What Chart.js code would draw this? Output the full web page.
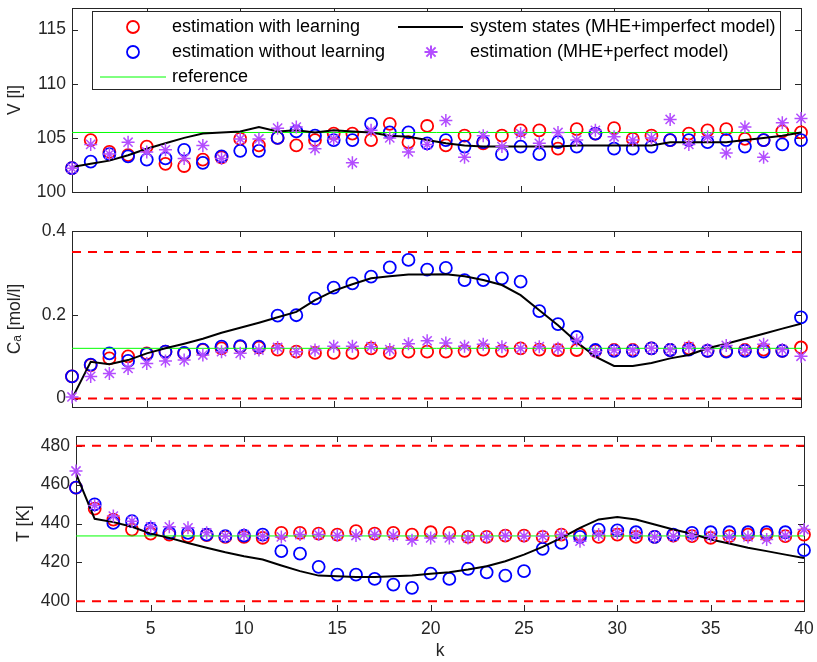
<!DOCTYPE html>
<html>
<head>
<meta charset="utf-8">
<script src="https://cdn.jsdelivr.net/npm/chart.js@4.4.0/dist/chart.umd.min.js"></script>
<style>
    body { margin: 0; background: #fff; }
    #wrap { position: relative; width: 817px; height: 662px; }
    .panel { position: absolute; left: 0; width: 817px; }
</style>
</head>
<body>
<div id="wrap">
    <div class="panel" style="top:0"><canvas id="chartV" width="817" height="205"></canvas></div>
    <div class="panel" style="top:205px"><canvas id="chartCa" width="817" height="215"></canvas></div>
    <div class="panel" style="top:420px"><canvas id="chartT" width="817" height="242"></canvas></div>
</div>
<script>
// time steps
var kValues = [1, 2, 3, 4, 5, 6, 7, 8, 9, 10, 11, 12, 13, 14, 15, 16, 17, 18, 19, 20,
    21, 22, 23, 24, 25, 26, 27, 28, 29, 30, 31, 32, 33, 34, 35, 36, 37, 38, 39, 40];
var xTicks = [5, 10, 15, 20, 25, 30, 35, 40];

// V [l]
var vWithLearning = [102.2, 104.8, 103.7, 103.4, 104.2, 102.6, 102.4, 103.0, 103.2, 104.9, 104.3, 105.0, 104.3, 104.8, 105.4, 105.4, 104.8, 106.3, 104.6, 106.1,
    104.3, 105.2, 104.5, 105.2, 105.7, 105.7, 104.0, 105.8, 105.4, 105.9, 104.9, 105.2, 104.8, 105.4, 105.7, 105.8, 104.9, 104.8, 105.6, 105.5];
var vWithoutLearning = [102.2, 102.8, 103.5, 103.3, 103.0, 103.1, 103.9, 102.7, 103.3, 103.8, 103.8, 105.0, 105.6, 105.2, 104.8, 104.8, 106.3, 105.5, 105.5, 104.5,
    104.8, 104.2, 104.6, 103.5, 104.2, 103.5, 104.6, 104.2, 105.4, 104.0, 104.0, 104.2, 104.8, 104.8, 104.6, 104.8, 104.2, 104.8, 104.4, 104.8];
var vPerfect = [102.2, 104.4, 103.5, 104.6, 103.7, 103.9, 103.1, 104.3, 103.1, 104.9, 104.9, 105.9, 106.0, 104.0, 104.9, 102.7, 105.7, 105.0, 103.7, 104.4,
    106.6, 103.2, 105.2, 104.2, 105.4, 104.5, 105.5, 104.8, 105.7, 105.1, 104.8, 105.0, 106.7, 104.4, 105.1, 103.6, 106.0, 103.2, 106.4, 106.8];
var vSystem = [102.3, 102.6, 102.9, 103.4, 104.0, 104.5, 105.0, 105.4, 105.5, 105.6, 106.0, 105.6, 105.7, 105.5, 105.7, 105.6, 105.5, 105.2, 105.1, 104.8,
    104.5, 104.3, 104.2, 104.2, 104.2, 104.2, 104.2, 104.3, 104.3, 104.3, 104.3, 104.3, 104.6, 104.6, 104.6, 104.6, 104.8, 105.0, 105.2, 105.5];
var vReference = 105.5;
var vTicks = [100, 105, 110, 115];

// Ca [mol/l]
var caWithLearning = [0.053, 0.080, 0.096, 0.101, 0.108, 0.112, 0.108, 0.116, 0.120, 0.124, 0.122, 0.117, 0.112, 0.109, 0.109, 0.109, 0.120, 0.109, 0.112, 0.112,
    0.112, 0.114, 0.117, 0.114, 0.120, 0.117, 0.116, 0.116, 0.114, 0.116, 0.116, 0.120, 0.116, 0.120, 0.114, 0.114, 0.116, 0.117, 0.114, 0.122];
var caWithoutLearning = [0.053, 0.081, 0.108, 0.090, 0.106, 0.112, 0.109, 0.117, 0.124, 0.125, 0.124, 0.198, 0.199, 0.239, 0.265, 0.275, 0.291, 0.313, 0.331, 0.308,
    0.312, 0.283, 0.283, 0.287, 0.279, 0.209, 0.178, 0.147, 0.116, 0.114, 0.114, 0.120, 0.116, 0.117, 0.114, 0.112, 0.114, 0.112, 0.114, 0.194];
var caPerfect = [0.004, 0.053, 0.060, 0.072, 0.084, 0.090, 0.092, 0.104, 0.112, 0.108, 0.116, 0.122, 0.112, 0.116, 0.125, 0.125, 0.124, 0.117, 0.131, 0.138,
    0.133, 0.125, 0.130, 0.124, 0.120, 0.124, 0.120, 0.139, 0.112, 0.116, 0.116, 0.120, 0.117, 0.124, 0.117, 0.127, 0.116, 0.130, 0.117, 0.101];
var caSystem = [0.000, 0.088, 0.082, 0.092, 0.108, 0.120, 0.131, 0.143, 0.157, 0.169, 0.181, 0.194, 0.207, 0.235, 0.257, 0.273, 0.287, 0.292, 0.296, 0.296,
    0.297, 0.292, 0.283, 0.271, 0.247, 0.211, 0.175, 0.135, 0.100, 0.078, 0.078, 0.085, 0.096, 0.104, 0.120, 0.131, 0.143, 0.155, 0.167, 0.179];
var caReference = 0.12;
var caLimits = [0, 0.35];
var caTicks = [0, 0.2, 0.4];

// T [K]
var tWithLearning = [458.4, 447.6, 442.0, 436.9, 434.8, 434.3, 433.5, 434.0, 433.1, 433.1, 432.6, 435.2, 435.2, 434.8, 434.3, 436.1, 434.8, 435.2, 434.3, 435.5,
    435.2, 433.1, 433.1, 433.8, 433.8, 433.1, 434.3, 434.3, 433.1, 434.3, 433.1, 433.1, 433.8, 433.5, 432.6, 433.5, 434.3, 434.3, 433.5, 434.3];
var tWithoutLearning = [458.4, 449.8, 440.3, 441.2, 437.3, 435.2, 435.2, 434.3, 433.5, 433.8, 434.3, 425.8, 424.5, 417.7, 413.7, 413.7, 411.5, 408.6, 406.9, 414.2,
    411.5, 416.7, 414.9, 413.2, 415.5, 427.0, 430.0, 433.1, 436.9, 436.5, 435.5, 433.1, 434.3, 435.2, 435.5, 435.5, 435.5, 435.5, 435.5, 426.3];
var tPerfect = [467.0, 449.3, 443.8, 441.2, 438.3, 438.3, 437.8, 435.2, 433.5, 434.3, 433.5, 433.1, 434.3, 434.3, 433.8, 433.8, 434.3, 433.8, 431.4, 432.6,
    432.6, 432.6, 433.1, 433.8, 433.5, 433.5, 434.3, 430.9, 434.3, 435.2, 434.3, 433.1, 433.5, 433.8, 433.5, 433.1, 433.1, 431.8, 433.8, 436.9];
var tSystem = [465.7, 442.4, 440.7, 438.3, 434.8, 432.6, 430.0, 427.5, 425.2, 423.2, 421.5, 418.4, 415.5, 413.2, 412.9, 412.5, 412.5, 412.9, 413.2, 414.2,
    414.9, 416.3, 418.0, 420.6, 424.0, 428.0, 432.6, 437.8, 442.1, 443.3, 442.1, 439.5, 436.9, 434.7, 431.8, 429.7, 427.5, 425.8, 424.0, 422.3];
var tReference = 433.6;
var tLimits = [400, 480];
var tTicks = [400, 420, 440, 460, 480];

var legendLabels = ["estimation with learning", "estimation without learning", "reference",
    "system states (MHE+imperfect model)", "estimation (MHE+perfect model)"];

var RED = "#ff0000", BLUE = "#0000ff", GREEN = "#00ff00", BLACK = "#000000", PURPLE = "rgb(179,77,255)";
var AXIS = "#262626";
var FONT = '"Liberation Sans", Arial, sans-serif';

Chart.defaults.font.family = FONT;
Chart.defaults.font.size = 17.5;
Chart.defaults.color = AXIS;
Chart.defaults.animation = false;

function toPoints(values) {
    return kValues.map(function (k, i) {
        return {x: k, y: values[i]};
    });
}

function hLine(value) {
    return [{x: kValues[0], y: value}, {x: kValues[kValues.length - 1], y: value}];
}

// matlab style box with inward ticks on all four sides
var boxAxes = {
    id: "boxAxes",
    beforeDatasetsDraw: function (chart) {
        var ctx = chart.ctx, a = chart.chartArea;
        var xs = chart.scales.x, ys = chart.scales.y;
        var tl = 6;
        ctx.save();
        ctx.strokeStyle = AXIS;
        ctx.lineWidth = 1;
        ctx.strokeRect(Math.round(a.left) + 0.5, Math.round(a.top) + 0.5,
            Math.round(a.right - a.left), Math.round(a.bottom - a.top));
        ctx.beginPath();
        xTicks.forEach(function (v) {
            var px = Math.round(xs.getPixelForValue(v)) + 0.5;
            ctx.moveTo(px, a.bottom); ctx.lineTo(px, a.bottom - tl);
            ctx.moveTo(px, a.top); ctx.lineTo(px, a.top + tl);
        });
        chart.options.yTickValues.forEach(function (v) {
            var py = Math.round(ys.getPixelForValue(v)) + 0.5;
            ctx.moveTo(a.left, py); ctx.lineTo(a.left + tl, py);
            ctx.moveTo(a.right, py); ctx.lineTo(a.right - tl, py);
        });
        ctx.stroke();
        ctx.restore();
    }
};

// two column legend box in the top panel
var boxLegend = {
    id: "boxLegend",
    afterDraw: function (chart) {
        var ctx = chart.ctx;
        ctx.save();
        ctx.fillStyle = "#ffffff";
        ctx.fillRect(92, 11, 689, 79);
        ctx.strokeStyle = AXIS;
        ctx.lineWidth = 1;
        ctx.strokeRect(92.5, 11.5, 688, 78);

        var rows = [27, 52, 77];
        // column 1
        ctx.strokeStyle = RED; ctx.lineWidth = 1.8;
        ctx.beginPath(); ctx.arc(133, rows[0], 6, 0, Math.PI * 2); ctx.stroke();
        ctx.strokeStyle = BLUE;
        ctx.beginPath(); ctx.arc(133, rows[1], 6, 0, Math.PI * 2); ctx.stroke();
        ctx.strokeStyle = GREEN; ctx.lineWidth = 1;
        ctx.beginPath(); ctx.moveTo(100, rows[2]); ctx.lineTo(166, rows[2]); ctx.stroke();
        // column 2
        ctx.strokeStyle = BLACK; ctx.lineWidth = 2;
        ctx.beginPath(); ctx.moveTo(398, rows[0]); ctx.lineTo(463, rows[0]); ctx.stroke();
        ctx.strokeStyle = PURPLE;
        Chart.helpers.drawPoint(ctx, {pointStyle: "star", radius: 6.5, borderWidth: 1.5}, 431, rows[1]);

        ctx.fillStyle = "#000000";
        ctx.font = "18px " + FONT;
        ctx.textBaseline = "middle";
        ctx.textAlign = "left";
        ctx.fillText(legendLabels[0], 172, rows[0]);
        ctx.fillText(legendLabels[1], 172, rows[1]);
        ctx.fillText(legendLabels[2], 172, rows[2]);
        ctx.fillText(legendLabels[3], 470, rows[0]);
        ctx.fillText(legendLabels[4], 470, rows[1]);
        ctx.restore();
    }
};

function makePanel(canvasId, p) {
    var datasets = [];
    (p.limits || []).forEach(function (v) {
        datasets.push({
            label: "limit", data: hLine(v), showLine: true, borderColor: RED, borderWidth: 2,
            borderDash: [9, 7], pointRadius: 0, order: 8
        });
    });
    datasets.push({
        label: legendLabels[0], data: toPoints(p.withLearning), showLine: false, pointStyle: "circle",
        pointRadius: 6, pointBorderWidth: 1.8, pointBorderColor: RED, pointBackgroundColor: "rgba(0,0,0,0)",
        borderColor: RED, clip: false, order: 6
    });
    datasets.push({
        label: legendLabels[1], data: toPoints(p.withoutLearning), showLine: false, pointStyle: "circle",
        pointRadius: 6, pointBorderWidth: 1.8, pointBorderColor: BLUE, pointBackgroundColor: "rgba(0,0,0,0)",
        borderColor: BLUE, clip: false, order: 5
    });
    datasets.push({
        label: legendLabels[2], data: hLine(p.reference), showLine: true, borderColor: GREEN, borderWidth: 1,
        pointRadius: 0, order: 4
    });
    datasets.push({
        label: legendLabels[3], data: toPoints(p.system), showLine: true, borderColor: BLACK, borderWidth: 2,
        pointRadius: 0, tension: 0, order: 3
    });
    datasets.push({
        label: legendLabels[4], data: toPoints(p.perfect), showLine: false, pointStyle: "star",
        pointRadius: 6.5, pointBorderWidth: 1.5, pointBorderColor: PURPLE, borderColor: PURPLE,
        clip: false, order: 1
    });

    var plugins = [boxAxes];
    if (p.legend) plugins.push(boxLegend);

    return new Chart(document.getElementById(canvasId), {
        type: "scatter",
        data: {datasets: datasets},
        plugins: plugins,
        options: {
            responsive: false,
            yTickValues: p.yTicks,
            layout: {padding: p.padding},
            plugins: {legend: {display: false}, tooltip: {enabled: false}},
            scales: {
                x: {
                    type: "linear", min: 1, max: 40,
                    display: p.showX,
                    afterBuildTicks: function (scale) {
                        scale.ticks = xTicks.map(function (v) { return {value: v}; });
                    },
                    afterFit: function (scale) {
                        // fixed axis height, no extra label overhang
                        if (p.showX) scale.height = 51;
                        scale.paddingLeft = 0;
                        scale.paddingRight = 0;
                    },
                    grid: {display: false, drawTicks: false},
                    border: {display: false},
                    ticks: {padding: 8, maxRotation: 0, callback: function (v) { return String(v); }},
                    title: {display: true, text: "k", padding: {top: 0, bottom: 0}}
                },
                y: {
                    min: p.yMin, max: p.yMax,
                    afterBuildTicks: function (scale) {
                        scale.ticks = p.yTicks.map(function (v) { return {value: v}; });
                    },
                    afterFit: function (scale) {
                        scale.width = p.axisWidth;
                        scale.paddingTop = 0;
                        scale.paddingBottom = 0;
                    },
                    grid: {display: false, drawTicks: false},
                    border: {display: false},
                    ticks: {padding: 6, callback: function (v) { return String(v); }},
                    title: {display: true, text: p.yTitle, padding: {top: p.titlePad, bottom: 0}}
                }
            }
        }
    });
}

makePanel("chartV", {
    withLearning: vWithLearning, withoutLearning: vWithoutLearning, perfect: vPerfect, system: vSystem,
    reference: vReference, yMin: 100, yMax: 117, yTicks: vTicks, yTitle: "V [l]",
    axisWidth: 72, titlePad: 5, showX: false, legend: true,
    padding: {left: 0, right: 16, top: 7, bottom: 13}
});

makePanel("chartCa", {
    withLearning: caWithLearning, withoutLearning: caWithoutLearning, perfect: caPerfect, system: caSystem,
    reference: caReference, limits: caLimits, yMin: -0.02, yMax: 0.4, yTicks: caTicks, yTitle: "Cₐ [mol/l]",
    axisWidth: 72, titlePad: 5, showX: false,
    padding: {left: 0, right: 16, top: 26, bottom: 13}
});

makePanel("chartT", {
    withLearning: tWithLearning, withoutLearning: tWithoutLearning, perfect: tPerfect, system: tSystem,
    reference: tReference, limits: tLimits, yMin: 395, yMax: 485, yTicks: tTicks, yTitle: "T [K]",
    axisWidth: 76, titlePad: 14, showX: true,
    padding: {left: 0, right: 13, top: 16, bottom: 0}
});
</script>
</body>
</html>
